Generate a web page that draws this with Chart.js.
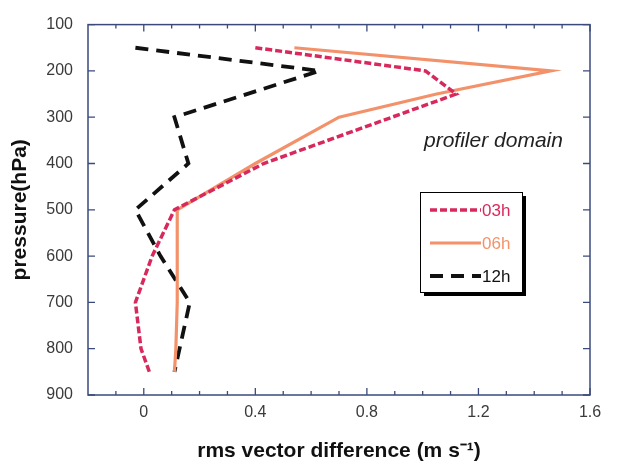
<!DOCTYPE html>
<html>
<head>
<meta charset="utf-8">
<script src="https://cdn.jsdelivr.net/npm/chart.js@4"></script>
<style>
  html, body { margin: 0; padding: 0; background: #fff; }
  #wrap { width: 620px; height: 464px; }
</style>
</head>
<body>
<div id="wrap"><canvas id="myChart" width="620" height="464"></canvas></div>
<script>
// pressure levels (hPa) and rms values per forecast length
const levels03 = [150, 200, 250, 400, 500, 600, 700, 800, 850];
const rms03    = [0.40, 1.01, 1.12, 0.43, 0.11, 0.03, -0.03, -0.01, 0.02];

const levels06 = [150, 200, 250, 300, 400, 500, 600, 700, 800, 850];
const rms06    = [0.54, 1.46, 1.05, 0.70, 0.40, 0.12, 0.12, 0.12, 0.115, 0.11];

const levels12 = [150, 200, 300, 400, 500, 600, 700, 850];
const rms12    = [-0.03, 0.63, 0.11, 0.16, -0.03, 0.06, 0.165, 0.11];

const xMajorTicks = [0, 0.4, 0.8, 1.2, 1.6];
const xMinorTicks = [-0.1, 0.1, 0.2, 0.3, 0.5, 0.6, 0.7, 0.9, 1.0, 1.1, 1.3, 1.4, 1.5];
const yTicks = [100, 200, 300, 400, 500, 600, 700, 800, 900];

const seriesLabels = ['03h', '06h', '12h'];
const seriesColors = ['#d8295c', '#f3926a', '#111111'];
const seriesDash = [[7, 3], [], [13, 8]];
const seriesWidth = [3.5, 3.2, 3.8];

const axisColor = '#3b4a7c';
const fontFamily = '"Liberation Sans", Arial, sans-serif';

function toPoints(xs, ys) {
    return xs.map((p, i) => ({ x: ys[i], y: p }));
}

// frame, inward ticks on all four sides, the boxed legend and the annotation
const decorations = {
    id: 'decorations',
    afterDraw(chart) {
        const c = chart.ctx;
        const a = chart.chartArea;
        const xs = chart.scales.x;
        const ys = chart.scales.y;
        c.save();
        c.strokeStyle = axisColor;
        c.lineWidth = 1.5;
        c.strokeRect(a.left, a.top, a.right - a.left, a.bottom - a.top);

        c.lineWidth = 1.3;
        c.beginPath();
        xMajorTicks.forEach(v => {
            const px = xs.getPixelForValue(v);
            c.moveTo(px, a.bottom); c.lineTo(px, a.bottom - 7);
            c.moveTo(px, a.top); c.lineTo(px, a.top + 7);
        });
        xMinorTicks.forEach(v => {
            const px = xs.getPixelForValue(v);
            c.moveTo(px, a.bottom); c.lineTo(px, a.bottom - 4);
            c.moveTo(px, a.top); c.lineTo(px, a.top + 4);
        });
        yTicks.forEach(v => {
            const py = ys.getPixelForValue(v);
            c.moveTo(a.left, py); c.lineTo(a.left + 7, py);
            c.moveTo(a.right, py); c.lineTo(a.right - 7, py);
        });
        c.stroke();

        // annotation
        c.fillStyle = '#222';
        c.font = 'italic 21px ' + fontFamily;
        c.textAlign = 'left';
        c.textBaseline = 'middle';
        c.fillText('profiler domain', 424, 141);

        // legend box with shadow
        const bx = 420, by = 192, bw = 102, bh = 100;
        c.fillStyle = '#000';
        c.fillRect(bx + 4, by + 4, bw, bh);
        c.fillStyle = '#fff';
        c.fillRect(bx, by, bw, bh);
        c.strokeStyle = '#000';
        c.lineWidth = 1;
        c.strokeRect(bx + 0.5, by + 0.5, bw, bh);

        const rowsY = [210, 243, 276];
        c.font = '17px ' + fontFamily;
        seriesLabels.forEach((lab, i) => {
            c.strokeStyle = seriesColors[i];
            c.lineWidth = seriesWidth[i];
            c.setLineDash(seriesDash[i]);
            c.beginPath();
            c.moveTo(430, rowsY[i]);
            c.lineTo(481, rowsY[i]);
            c.stroke();
            c.setLineDash([]);
            c.fillStyle = seriesColors[i];
            c.fillText(lab, 482, rowsY[i] + 1);
        });
        c.restore();
    }
};

const ctx = document.getElementById('myChart');

const myChart = new Chart(ctx, {
    type: 'scatter',
    data: {
        datasets: [
            { label: '03h', data: toPoints(levels03, rms03) },
            { label: '06h', data: toPoints(levels06, rms06) },
            { label: '12h', data: toPoints(levels12, rms12) }
        ].map((d, i) => Object.assign(d, {
            showLine: true,
            borderColor: seriesColors[i],
            backgroundColor: seriesColors[i],
            borderWidth: seriesWidth[i],
            borderDash: seriesDash[i],
            pointRadius: 0,
            fill: false
        }))
    },
    options: {
        responsive: false,
        animation: false,
        layout: {
            padding: { top: 21, right: 30, left: 0, bottom: 0 }
        },
        scales: {
            x: {
                type: 'linear',
                min: -0.2,
                max: 1.6,
                afterBuildTicks: (axis) => {
                    axis.ticks = xMajorTicks.map(v => ({ value: v }));
                },
                afterFit: (axis) => { axis.height = 69; },
                grid: { display: false, drawTicks: false },
                border: { display: false },
                ticks: {
                    padding: 8,
                    color: '#3a3a3a',
                    font: { family: fontFamily, size: 16 },
                    callback: (v) => v === 0 ? '0' : String(v)
                },
                title: {
                    display: true,
                    text: 'rms vector difference (m s\u207B\u00B9)',
                    color: '#111',
                    padding: { top: 6, bottom: 0 },
                    font: { family: fontFamily, size: 21, weight: 'bold' }
                }
            },
            y: {
                type: 'linear',
                reverse: true,
                min: 100,
                max: 900,
                afterBuildTicks: (axis) => {
                    axis.ticks = yTicks.map(v => ({ value: v }));
                },
                afterFit: (axis) => { axis.width = 88; },
                grid: { display: false, drawTicks: false },
                border: { display: false },
                ticks: {
                    padding: 15,
                    color: '#3a3a3a',
                    font: { family: fontFamily, size: 16 }
                },
                title: {
                    display: true,
                    text: 'pressure(hPa)',
                    color: '#111',
                    padding: { top: 8, bottom: 0 },
                    font: { family: fontFamily, size: 21, weight: 'bold' }
                }
            }
        },
        plugins: {
            legend: { display: false },
            tooltip: { enabled: false }
        }
    },
    plugins: [decorations]
});
</script>
</body>
</html>
